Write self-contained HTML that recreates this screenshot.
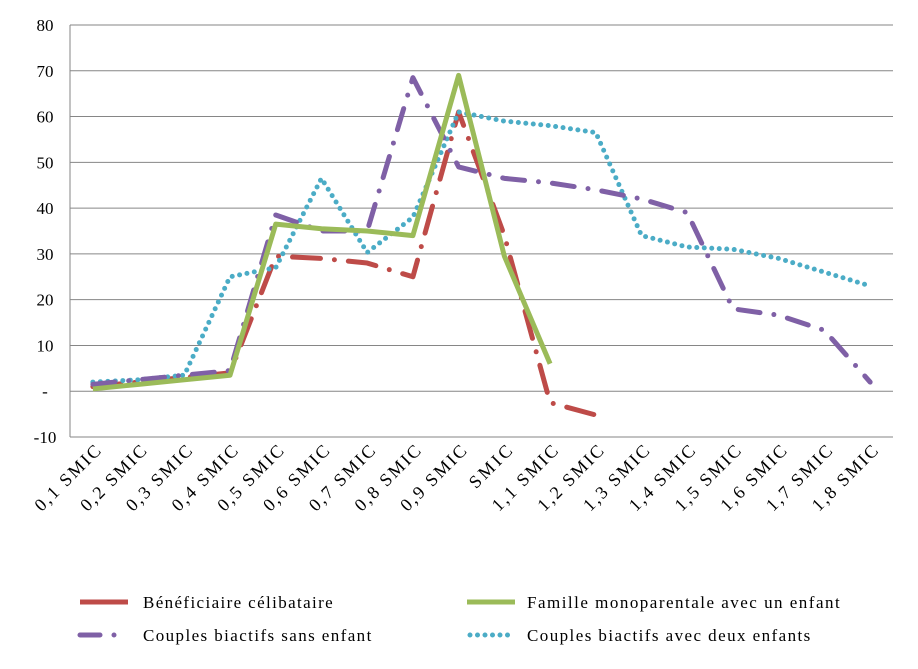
<!DOCTYPE html>
<html><head><meta charset="utf-8"><style>
body{margin:0;background:#fff;}
svg text{font-family:"Liberation Serif",serif;fill:#000;}
</style></head><body>
<svg width="918" height="664" xmlns="http://www.w3.org/2000/svg">
<g id="grid"></g><g id="ylab"></g><g id="xlab"></g><g id="series"></g>
<g>
<line x1="80" y1="602" x2="128" y2="602" stroke="#BE4B48" stroke-width="5"/>
<text class="wide" x="143" y="608" font-size="17">Bénéficiaire célibataire</text>
<line x1="467" y1="602" x2="515" y2="602" stroke="#9BBB59" stroke-width="5"/>
<text class="wide" x="527" y="608" font-size="17">Famille monoparentale avec un enfant</text>
<line x1="80" y1="635" x2="128" y2="635" stroke="#7F60A6" stroke-width="5" stroke-linecap="round" stroke-dasharray="20 14 0 14"/>
<text class="wide" x="143" y="641" font-size="17">Couples biactifs sans enfant</text>
<line x1="470" y1="635" x2="515" y2="635" stroke="#4BACC6" stroke-width="5" stroke-linecap="round" stroke-dasharray="0 7.5"/>
<text class="wide" x="527" y="641" font-size="17">Couples biactifs avec deux enfants</text>
</g>
</svg>
<script>
const categories=["0,1 SMIC","0,2 SMIC","0,3 SMIC","0,4 SMIC","0,5 SMIC","0,6 SMIC","0,7 SMIC","0,8 SMIC","0,9 SMIC","SMIC","1,1 SMIC","1,2 SMIC","1,3 SMIC","1,4 SMIC","1,5 SMIC","1,6 SMIC","1,7 SMIC","1,8 SMIC"];
const yTicks=[-10,0,10,20,30,40,50,60,70,80];
const yTickLabels=["-10","-","10","20","30","40","50","60","70","80"];
const celibataire=[1,2,3,4,29.5,29,28,25,61,34,-2.5,-5.2];
const monoparentale=[0.5,1.5,2.5,3.5,36.5,35.5,35,34,69,29.5,6];
const couplesSans=[1.5,2.5,3.5,4.5,38.5,35,35,68.5,49,46.5,45.5,44,42,39,18,16.6,13.3,2];
const couplesDeux=[2,2.5,3.5,25,27,46.5,30.3,38,61,59,58,56.5,34,31.5,31,29,26,23];
const NS="http://www.w3.org/2000/svg";
const X0=70,X1=893,Ytop=25,Ybot=437;
const xs=i=>X0+(i+0.5)*(X1-X0)/categories.length;
const ys=v=>Ybot-(v+10)/90*(Ybot-Ytop);
function mk(tag,attrs,parent){const e=document.createElementNS(NS,tag);for(const k in attrs)e.setAttribute(k,attrs[k]);document.getElementById(parent).appendChild(e);return e;}
yTicks.forEach((t,i)=>{
 const l=mk('line',{x1:X0,x2:X1,y1:ys(t),y2:ys(t),stroke:'#868686','stroke-width':1},'grid');
 
 
 const tx=mk('text',{x:45,y:ys(t)+6,'font-size':17,'text-anchor':'middle'},'ylab');
 tx.textContent=yTickLabels[i];
 
 
});
const ax=mk('line',{x1:X0,x2:X0,y1:Ytop,y2:Ybot,stroke:'#868686'},'grid');


categories.forEach((c,i)=>{
 const x=xs(i)+9,y=452;
 const t=mk('text',{x:x,y:y,'font-size':18,'text-anchor':'end',transform:`rotate(-45 ${x} ${y})`},'xlab');
 t.textContent=c;
 t.setAttribute('class','wide');
 
 
});
function series(vals,color,dash,name,cap){
 const d=vals.map((v,i)=>(i?'L':'M')+xs(i)+' '+ys(v)).join(' ');
 const p=mk('path',{d:d,fill:'none',stroke:color,'stroke-width':5,'stroke-linecap':cap,'stroke-linejoin':'round'},'series');
 if(dash)p.setAttribute('stroke-dasharray',dash);
 
 
}
series(celibataire,'#BE4B48','28 14 0 14','line-celibataire','round');
series(couplesDeux,'#4BACC6','0 7.5','line-couples-deux-enfants','round');
series(couplesSans,'#7F60A6','22 14 0 14','line-couples-sans-enfant','round');
series(monoparentale,'#9BBB59',null,'line-monoparentale','butt');
document.querySelectorAll('text.wide').forEach(t=>{
 const w=t.getComputedTextLength();
 t.setAttribute('textLength',(w*1.2).toFixed(1));
 t.setAttribute('lengthAdjust','spacing');
});
</script>
</body></html>
